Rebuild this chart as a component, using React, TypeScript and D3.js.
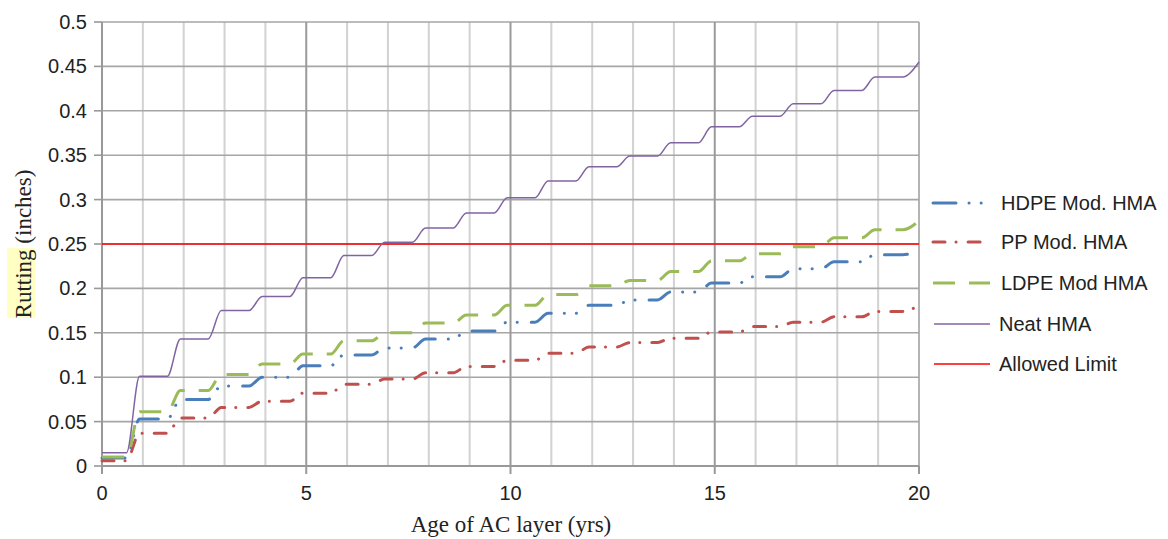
import React from "react";
import * as d3 from "d3";

// ---- data (plateau value reached in each year of service) ----
const years = [0, 1, 2, 3, 4, 5, 6, 7, 8, 9, 10, 11, 12, 13, 14, 15, 16, 17, 18, 19, 20];
const hdpe = [0.009, 0.053, 0.075, 0.09, 0.1, 0.113, 0.125, 0.133, 0.143, 0.152, 0.162, 0.172, 0.181, 0.187, 0.196, 0.206, 0.213, 0.222, 0.23, 0.238, 0.242];
const pp = [0.006, 0.037, 0.054, 0.066, 0.073, 0.082, 0.092, 0.098, 0.105, 0.112, 0.119, 0.127, 0.134, 0.139, 0.144, 0.151, 0.157, 0.162, 0.168, 0.174, 0.181];
const ldpe = [0.01, 0.061, 0.085, 0.103, 0.115, 0.126, 0.141, 0.15, 0.161, 0.17, 0.181, 0.193, 0.203, 0.209, 0.219, 0.231, 0.239, 0.247, 0.257, 0.266, 0.276];
const neat = [0.015, 0.101, 0.143, 0.175, 0.191, 0.212, 0.237, 0.252, 0.268, 0.285, 0.302, 0.321, 0.337, 0.349, 0.364, 0.382, 0.394, 0.408, 0.423, 0.438, 0.455];
const allowedLimit = 0.25;
// seasonal timing within each year: plateau ends / next plateau reached
const riseStart = 0.6;
const riseEnd = 0.92;

const xTicks = [0, 5, 10, 15, 20];
const yTicks = [0, 0.05, 0.1, 0.15, 0.2, 0.25, 0.3, 0.35, 0.4, 0.45, 0.5];
const yTickLabels = ["0", "0.05", "0.1", "0.15", "0.2", "0.25", "0.3", "0.35", "0.4", "0.45", "0.5"];

const seriesNames = ["HDPE Mod. HMA", "PP Mod. HMA", "LDPE Mod HMA", "Neat HMA", "Allowed Limit"];

const x = d3.scaleLinear().domain([0, 20]).range([102, 919]);
const y = d3.scaleLinear().domain([0, 0.5]).range([466, 22]);

function stepPoints(vals: number[]): [number, number][] {
  const pts: [number, number][] = [[years[0], vals[0]]];
  for (let k = 0; k < years.length - 2; k++) {
    pts.push([years[k] + riseStart, vals[k]]);
    pts.push([years[k] + riseEnd, vals[k + 1]]);
  }
  const n = years.length;
  pts.push([years[n - 2] + riseStart, vals[n - 2]]);
  pts.push([years[n - 1], vals[n - 1]]);
  return pts;
}

const line = d3
  .line<[number, number]>()
  .x((d) => x(d[0]))
  .y((d) => y(d[1]))
  .curve(d3.curveMonotoneX);

const styles = [
  { vals: hdpe, color: "#4a7ebb", width: 3, dash: "23 13 0.1 12 0.1 14", cap: "round" },
  { vals: pp, color: "#c0504d", width: 3, dash: "12 11 0.1 12", cap: "round" },
  { vals: ldpe, color: "#9bbb59", width: 3, dash: "22 14", cap: "butt" },
  { vals: neat, color: "#8064a2", width: 1.5, dash: "", cap: "butt" },
];

export default function App() {
  const minorX = d3.range(1, 20).filter((v) => v % 5 !== 0);
  const majorX = [5, 10, 15];
  const legendY = [203, 242, 283, 324, 364];
  return (
    <svg
      width={1168}
      height={539}
      style={{ position: "absolute", left: 0, top: 0, background: "#fff" }}
    >
      <rect x={0} y={0} width={1168} height={539} fill="#fff" />
      {/* grid */}
      {minorX.map((v) => (
        <line key={"mx" + v} x1={x(v)} x2={x(v)} y1={y(0.5)} y2={y(0)} stroke="#d2d2d2" strokeWidth={2} />
      ))}
      <line x1={x(20)} x2={x(20)} y1={y(0.5)} y2={y(0)} stroke="#b4b4b4" strokeWidth={2} />
      {yTicks.slice(1).map((v) => (
        <line key={"gy" + v} x1={x(0)} x2={x(20)} y1={y(v)} y2={y(v)} stroke="#a6a6a6" strokeWidth={1.6} />
      ))}
      {majorX.map((v) => (
        <line key={"Mx" + v} x1={x(v)} x2={x(v)} y1={y(0.5)} y2={y(0)} stroke="#9a9a9a" strokeWidth={2} />
      ))}
      {/* axes */}
      <line x1={x(0)} x2={x(0)} y1={y(0.5)} y2={y(0)} stroke="#999" strokeWidth={2} />
      <line x1={x(0)} x2={x(20)} y1={y(0)} y2={y(0)} stroke="#999" strokeWidth={2} />
      {yTicks.map((v, i) => (
        <g key={"yt" + v}>
          <line x1={x(0) - 8} x2={x(0)} y1={y(v)} y2={y(v)} stroke="#999" strokeWidth={1.6} />
          <text
            x={87}
            y={y(v)}
            dy="0.35em"
            textAnchor="end"
            fontFamily="Liberation Sans, Arial, sans-serif"
            fontSize={20}
            fill="#222"
          >
            {yTickLabels[i]}
          </text>
        </g>
      ))}
      {xTicks.map((v) => (
        <g key={"xt" + v}>
          <line x1={x(v)} x2={x(v)} y1={y(0)} y2={y(0) + 8} stroke="#999" strokeWidth={2} />
          <text
            x={x(v)}
            y={493}
            dy="0.35em"
            textAnchor="middle"
            fontFamily="Liberation Sans, Arial, sans-serif"
            fontSize={20}
            fill="#222"
          >
            {v}
          </text>
        </g>
      ))}
      {/* allowed limit */}
      <line x1={x(0)} x2={x(20)} y1={y(allowedLimit)} y2={y(allowedLimit)} stroke="#ff0000" strokeWidth={1.6} />
      {/* series */}
      {styles.map((s, i) => (
        <path
          key={"s" + i}
          d={line(stepPoints(s.vals)) || ""}
          fill="none"
          stroke={s.color}
          strokeWidth={s.width}
          strokeDasharray={s.dash || undefined}
          strokeLinecap={s.cap as any}
        />
      ))}
      {/* axis titles */}
      <text
        x={511}
        y={532}
        textAnchor="middle"
        fontFamily="Liberation Serif, Times New Roman, serif"
        fontSize={23}
        fill="#222"
      >
        Age of AC layer (yrs)
      </text>
      <rect x={7} y={248} width={28} height={70} fill="#ffffc4" />
      <text
        transform="translate(31,244) rotate(-90)"
        textAnchor="middle"
        fontFamily="Liberation Serif, Times New Roman, serif"
        fontSize={23}
        fill="#222"
      >
        Rutting (inches)
      </text>
      {/* legend */}
      {seriesNames.map((name, i) => {
        const st = i < 4 ? styles[i] : { color: "#ff0000", width: 1.6, dash: "", cap: "butt" };
        return (
          <g key={"lg" + i}>
            <line
              x1={i < 3 ? 933 : 934}
              x2={990}
              y1={legendY[i]}
              y2={legendY[i]}
              stroke={st.color}
              strokeWidth={st.width}
              strokeDasharray={st.dash || undefined}
              strokeLinecap={st.cap as any}
            />
            <text
              x={i < 3 ? 1001 : 999}
              y={legendY[i]}
              dy="0.35em"
              fontFamily="Liberation Sans, Arial, sans-serif"
              fontSize={20}
              fill="#222"
            >
              {name}
            </text>
          </g>
        );
      })}
    </svg>
  );
}
